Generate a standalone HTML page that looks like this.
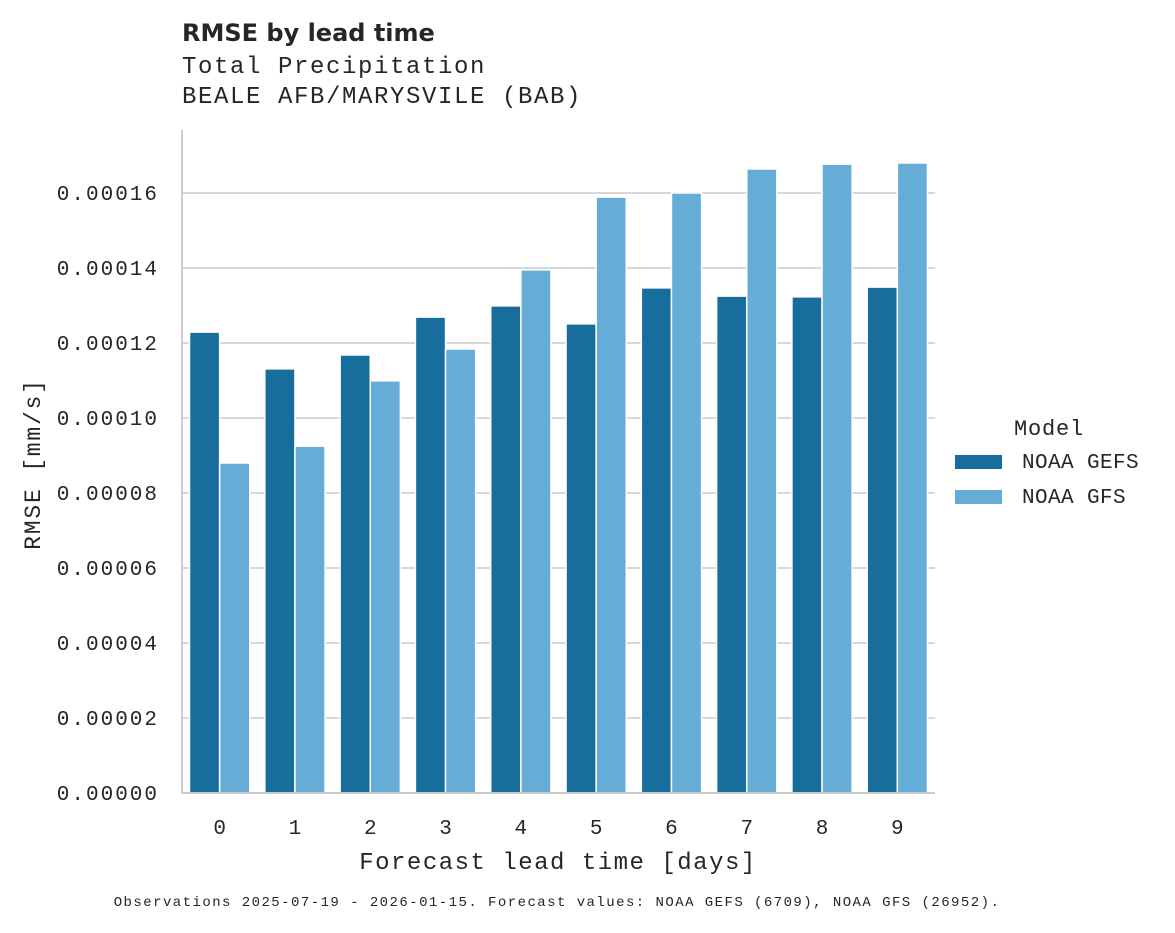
<!DOCTYPE html>
<html><head><meta charset="utf-8"><style>
body{margin:0;background:#fff;}
svg text{fill:#262626;}
</style></head><body>
<svg id="chart" width="1175" height="928" xmlns="http://www.w3.org/2000/svg">
<text x="182" y="41" font-family="DejaVu Sans, sans-serif" font-weight="bold" font-size="24">RMSE by lead time</text>
<text x="182" y="73" font-family="Liberation Mono, monospace" font-size="24" letter-spacing="1.6">Total Precipitation</text>
<text x="182" y="103" font-family="Liberation Mono, monospace" font-size="24" letter-spacing="1.6">BEALE AFB/MARYSVILE (BAB)</text>
<g id="grid"></g>
<g id="bars"></g>
<g id="axes"></g>
<text x="40" y="464" transform="rotate(-90 40 464)" text-anchor="middle" font-family="Liberation Mono, monospace" font-size="23" letter-spacing="1.8">RMSE [mm/s]</text>
<text x="558" y="869" text-anchor="middle" font-family="Liberation Mono, monospace" font-size="24" letter-spacing="1.5">Forecast lead time [days]</text>
<text x="557" y="906" text-anchor="middle" font-family="Liberation Mono, monospace" font-size="14" letter-spacing="1.45">Observations 2025-07-19 - 2026-01-15. Forecast values: NOAA GEFS (6709), NOAA GFS (26952).</text>
<g>
<text x="1014" y="435" font-family="Liberation Mono, monospace" font-size="22" letter-spacing="0.8">Model</text>
<rect x="955" y="455" width="47" height="14" fill="#176d9c"/>
<text x="1022" y="468" font-family="Liberation Mono, monospace" font-size="21" letter-spacing="0.4">NOAA GEFS</text>
<rect x="955" y="490" width="47" height="14" fill="#65add6"/>
<text x="1022" y="503" font-family="Liberation Mono, monospace" font-size="21" letter-spacing="0.4">NOAA GFS</text>
</g>
</svg>
<script>
const categories=[0,1,2,3,4,5,6,7,8,9];
const gefsValues=[0.0001229,0.0001131,0.0001168,0.0001269,0.0001299,0.0001251,0.0001347,0.0001325,0.0001323,0.0001349];
const gfsValues=[0.0000880,0.0000925,0.0001099,0.0001184,0.0001395,0.0001589,0.0001600,0.0001664,0.0001677,0.0001680];
const yTicks=[0,0.00002,0.00004,0.00006,0.00008,0.0001,0.00012,0.00014,0.00016];
const yTickLabels=["0.00000","0.00002","0.00004","0.00006","0.00008","0.00010","0.00012","0.00014","0.00016"];
const NS="http://www.w3.org/2000/svg";
const X0=182,X1=935,Y0=793;
const yScale=v=>Y0-v/0.00016*600;
const step=(X1-X0)/categories.length;
const xScale=i=>X0+step*(i+0.5);
function mk(tag,attrs,parent){const e=document.createElementNS(NS,tag);for(const k in attrs)e.setAttribute(k,attrs[k]);parent.appendChild(e);return e;}
const grid=document.getElementById('grid'),bars=document.getElementById('bars'),axes=document.getElementById('axes');
yTicks.forEach((t,i)=>{
  const y=yScale(t);
  if(t>0){const g=mk('line',{x1:X0,x2:X1,y1:y,y2:y,stroke:'#cccccc','stroke-width':1.5},grid);
  
  }
  const tx=mk('text',{x:159,y:y+7,'text-anchor':'end','font-family':'Liberation Mono, monospace','font-size':21,'letter-spacing':2},axes);
  tx.textContent=yTickLabels[i];
  
  
});
const bw=step*0.8/2;
categories.forEach((c,i)=>{
  const cx=xScale(i);
  [[gefsValues[i],'#176d9c',cx-bw,'bar-gefs'],[gfsValues[i],'#65add6',cx,'bar-gfs']].forEach(([v,col,x,n])=>{
    const r=mk('rect',{x:x,y:yScale(v),width:bw,height:Y0-yScale(v),fill:col,stroke:'#fff','stroke-width':1.5},bars);
    
    
  });
  const tx=mk('text',{x:cx,y:834,'text-anchor':'middle','font-family':'Liberation Mono, monospace','font-size':21},axes);
  tx.textContent=c;
  
  
});
const ly=mk('line',{x1:X0,x2:X0,y1:130,y2:Y0+1,stroke:'#cccccc','stroke-width':2},axes);


const lx=mk('line',{x1:X0-1,x2:X1,y1:Y0,y2:Y0,stroke:'#cccccc','stroke-width':2},axes);


</script>
</body></html>
